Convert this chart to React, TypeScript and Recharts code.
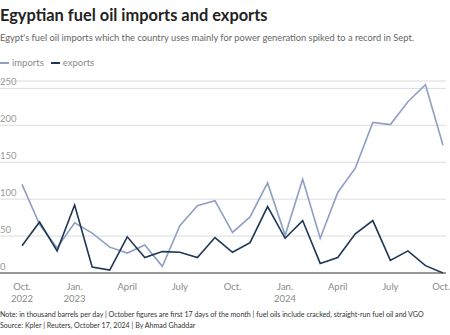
import { LineChart, Line, XAxis, YAxis, CartesianGrid } from "recharts";

const months = [
  "2022-10", "2022-11", "2022-12",
  "2023-01", "2023-02", "2023-03", "2023-04", "2023-05", "2023-06",
  "2023-07", "2023-08", "2023-09", "2023-10", "2023-11", "2023-12",
  "2024-01", "2024-02", "2024-03", "2024-04", "2024-05", "2024-06",
  "2024-07", "2024-08", "2024-09", "2024-10",
];
const imports = [120, 66, 34, 68, 54, 35, 27, 38, 9, 64, 91, 98, 55, 76, 122, 51, 127, 47, 109, 142, 204, 201, 232, 255, 173];
const exportsVals = [37, 69, 30, 92, 8, 4, 49, 21, 29, 28, 21, 48, 28, 41, 90, 47, 71, 13, 21, 53, 71, 17, 30, 10, 0];
const tickLabels: Record<string, string[]> = {
  "2022-10": ["Oct.", "2022"],
  "2023-01": ["Jan.", "2023"],
  "2023-04": ["April"],
  "2023-07": ["July"],
  "2023-10": ["Oct."],
  "2024-01": ["Jan.", "2024"],
  "2024-04": ["April"],
  "2024-07": ["July"],
  "2024-10": ["Oct."],
};
const yTicks = [0, 50, 100, 150, 200, 250];

const data = months.map((m, i) => ({ month: m, imports: imports[i], exports: exportsVals[i] }));

const FONT = "Lato, 'Noto Sans', sans-serif";
const IMP = "#8f9fc4";
const EXP = "#1e3656";

function XTick(props: any) {
  const { x, y, payload } = props;
  const lines = tickLabels[payload.value] || [];
  const isLast = payload.value === months[months.length - 1];
  return (
    <g>
      {lines.map((l, i) => (
        <text
          key={i}
          x={isLast ? x + 7 : x}
          y={y + 9 + i * 11.5}
          textAnchor={isLast ? "end" : "middle"}
          fontSize={9.5}
          fill="#8a8a8a"
          fontFamily={FONT}
        >
          {l}
        </text>
      ))}
    </g>
  );
}

function YTick(props: any) {
  const { y, payload } = props;
  return (
    <text x={0} y={y - 3} textAnchor="start" fontSize={9.5} fill="#9a9a9a" fontFamily={FONT}>
      {payload.value}
    </text>
  );
}

export default function App() {
  return (
    <div style={{ position: "absolute", left: 0, top: 0, width: 450, height: 335, background: "#fff", fontFamily: FONT, overflow: "hidden" }}>
      <div style={{ position: "absolute", left: 0, top: 5, fontSize: 16.4, fontWeight: 700, color: "#222", whiteSpace: "nowrap" }}>
        Egyptian fuel oil imports and exports
      </div>
      <div style={{ position: "absolute", left: 0, top: 32, fontSize: 9.3, color: "#666", whiteSpace: "nowrap" }}>
        Egypt's fuel oil imports which the country uses mainly for power generation spiked to a record in Sept.
      </div>
      <div style={{ position: "absolute", left: 0, top: 57, fontSize: 9.5, color: "#8a8a8a", whiteSpace: "nowrap", display: "flex", alignItems: "center" }}>
        <span style={{ display: "inline-block", width: 9, height: 2, background: IMP, marginRight: 3 }} />
        <span style={{ marginRight: 7 }}>imports</span>
        <span style={{ display: "inline-block", width: 9, height: 2, background: EXP, marginRight: 3 }} />
        <span>exports</span>
      </div>
      <div style={{ position: "absolute", left: 0, top: 0 }}>
        <LineChart width={450} height={335} data={data} margin={{ top: 81, right: 4, left: -20, bottom: 0 }}>
          <CartesianGrid horizontal vertical={false} stroke="#dcdcdc" strokeWidth={1} />
          <XAxis
            dataKey="month"
            interval={2}
            padding={{ left: 22, right: 3 }}
            height={62}
            tick={<XTick />}
            tickLine={false}
            axisLine={{ stroke: "#444", strokeWidth: 1 }}
          />
          <YAxis
            domain={[0, 260]}
            ticks={yTicks}
            width={20}
            axisLine={false}
            tickLine={false}
            tick={<YTick />}
          />
          <Line type="linear" dataKey="imports" stroke={IMP} strokeWidth={1.6} dot={false} isAnimationActive={false} />
          <Line type="linear" dataKey="exports" stroke={EXP} strokeWidth={1.6} dot={false} isAnimationActive={false} />
        </LineChart>
      </div>
      <div style={{ position: "absolute", left: 0, top: 309, fontSize: 7.1, color: "#333", whiteSpace: "nowrap", lineHeight: "11px" }}>
        <div>Note: in thousand barrels per day | October figures are first 17 days of the month | fuel oils include cracked, straight-run fuel oil and VGO</div>
        <div>Source: Kpler | Reuters, October 17, 2024 | By Ahmad Ghaddar</div>
      </div>
    </div>
  );
}
